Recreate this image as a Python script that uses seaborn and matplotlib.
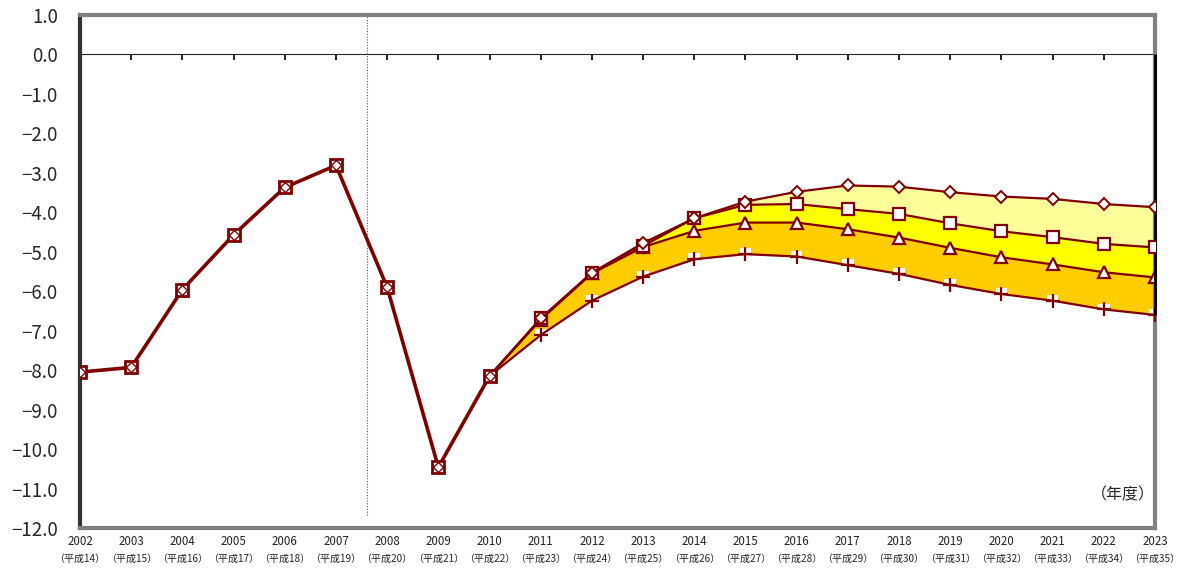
import numpy as np
import pandas as pd
import matplotlib
matplotlib.use("Agg")
import matplotlib.pyplot as plt
import seaborn as sns

# Fiscal years and their Heisei-era labels
years = list(range(2002, 2024))
heisei = list(range(14, 36))

# Actual results, FY2002-2010
actual = [-8.05, -7.93, -5.96, -4.57, -3.37, -2.81, -5.90, -10.46, -8.15]

# Projection cases, FY2011-2023
case_a = [-6.69, -5.53, -4.78, -4.15, -3.73, -3.48, -3.32, -3.35, -3.49, -3.60, -3.66, -3.79, -3.87]
case_b = [-6.69, -5.53, -4.85, -4.15, -3.81, -3.79, -3.92, -4.04, -4.28, -4.48, -4.63, -4.80, -4.89]
case_c = [-6.72, -5.55, -4.88, -4.47, -4.26, -4.26, -4.43, -4.64, -4.90, -5.14, -5.32, -5.52, -5.65]
case_d = [-7.11, -6.24, -5.63, -5.19, -5.06, -5.12, -5.34, -5.56, -5.84, -6.07, -6.24, -6.46, -6.60]

sns.set_style("white")
plt.rcParams["font.family"] = ["Noto Sans CJK JP", "DejaVu Sans"]
plt.rcParams["axes.unicode_minus"] = True

fig = plt.figure(figsize=(11.81, 5.69), dpi=100)
ax = fig.add_axes([80 / 1181, 1 - 528 / 569, (1155 - 80) / 1181, (528 - 15) / 569])
ax.set_ylim(-12, 1)

line_col = "#800000"
hist_x = years[:9]
proj_x = years[8:]
start = actual[-1]
a = np.array([start] + case_a)
b = np.array([start] + case_b)
c = np.array([start] + case_c)
d = np.array([start] + case_d)

# Shaded bands between the projection cases
ax.fill_between(proj_x, d, c, color="#FFCC00", lw=0, zorder=1)
ax.fill_between(proj_x, c, b, color="#FFFF00", lw=0, zorder=1)
ax.fill_between(proj_x, b, a, color="#FFFF99", lw=0, zorder=1)

# Boundary between actual and projected years
ax.axvline(2007.6, ymin=(12 - 11.68) / 13, ymax=1, color="#555555",
           ls=(0, (1, 1.5)), lw=0.8, zorder=1)

proj = pd.DataFrame({"year": proj_x, "a": a, "b": b, "c": c, "d": d})
hist = pd.DataFrame({"year": hist_x, "v": actual})
later = list(range(1, len(proj_x)))

common = dict(color=line_col, lw=1.6, markerfacecolor="white", markeredgecolor=line_col)

# White backing behind the plus markers
sns.scatterplot(data=proj.iloc[1:], x="year", y="d", ax=ax, marker="s", s=70,
                color="white", edgecolor="none", zorder=2, legend=False)

# Projection lines
sns.lineplot(data=proj, x="year", y="d", ax=ax, marker="+", markersize=10, markeredgewidth=1.6,
             markevery=later, zorder=3, **common)
sns.lineplot(data=proj, x="year", y="c", ax=ax, marker="^", markersize=8, markeredgewidth=1.6,
             markevery=later, zorder=3, **common)
sns.lineplot(data=proj, x="year", y="b", ax=ax, marker="s", markersize=8.5, markeredgewidth=1.6,
             markevery=later, zorder=4, **common)
sns.lineplot(data=proj, x="year", y="a", ax=ax, marker="D", markersize=6.5, markeredgewidth=1.4,
             markevery=later, zorder=5, **common)

# Actual results: square and diamond markers overlap
sns.lineplot(data=hist, x="year", y="v", ax=ax, marker="s", markersize=9, markeredgewidth=2,
             color=line_col, lw=2.6, markerfacecolor="white", markeredgecolor=line_col, zorder=6)
sns.lineplot(data=hist, x="year", y="v", ax=ax, marker="D", markersize=5.5, markeredgewidth=1.0,
             color=line_col, lw=0, markerfacecolor="white", markeredgecolor=line_col, zorder=7)

# Right-hand closing edge of the projection area
ax.vlines(years[-1], d[-1], 0, color="black", lw=2, zorder=3, clip_on=False)

ax.set_xlim(years[0], years[-1])
yt = np.arange(-12, 1.01, 1)
ax.set_yticks(yt)
ax.set_yticklabels([f"{v:.1f}".replace("-", "\u2212") for v in yt], fontsize=13.5)
ax.set_xticks(years)
ax.set_xticklabels([str(y) for y in years], fontsize=8.3, color="#222222")
ax.tick_params(axis="x", length=0, pad=5)
ax.tick_params(axis="y", length=0, pad=16)
ax.set_xlabel("")
ax.set_ylabel("")

# Era-name line under each year
xtrans = ax.get_xaxis_transform()
for y, h in zip(years, heisei):
    ax.text(y, -0.0604, f"（平成{h}）", transform=xtrans, ha="center", va="center",
            fontsize=7.2, color="#222222")

# Zero line with tick marks
zero_axis = ax.secondary_xaxis(12 / 13)
zero_axis.set_xticks(years[1:-1])
zero_axis.set_xticklabels([])
zero_axis.tick_params(axis="x", direction="in", length=4, width=1.2, color="black")
zero_axis.spines["bottom"].set_linewidth(1.6)
zero_axis.spines["bottom"].set_color("black")

for side in ["top", "right", "bottom"]:
    ax.spines[side].set_color("#808080")
    ax.spines[side].set_linewidth(3)
ax.spines["left"].set_color("#333333")
ax.spines["left"].set_linewidth(3)

ax.text(2023.0, -11.15, "（年度）", ha="right", va="center", fontsize=11.5)

fig.savefig("out.png", dpi=100, facecolor="white")
